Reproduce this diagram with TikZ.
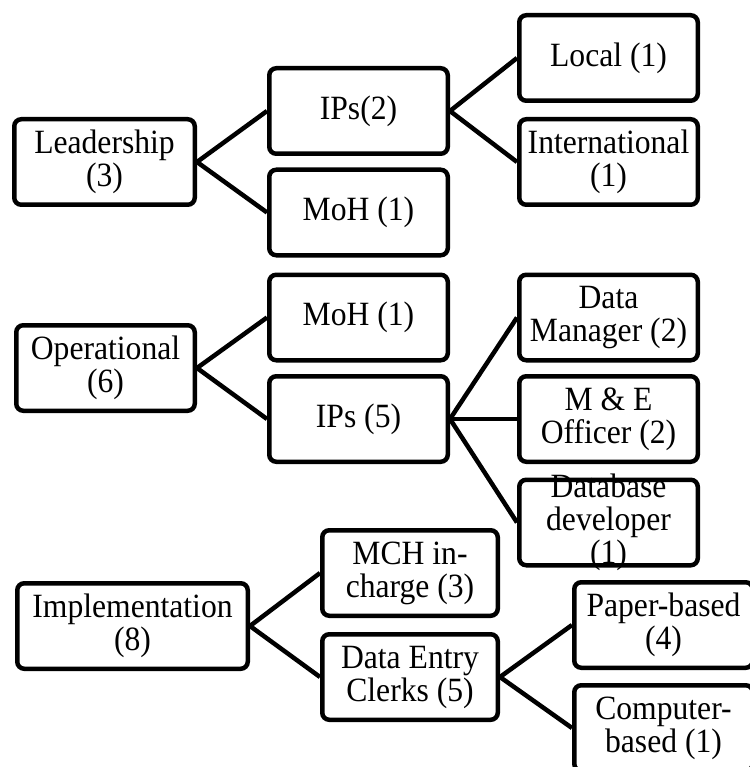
\documentclass[tikz,border=0pt]{standalone}
\usepackage{fontspec}
\setmainfont{Liberation Serif}[FakeStretch=0.93]
\begin{document}
\begin{tikzpicture}[x=1pt,y=-1pt,
  box/.style={draw=black, line width=4.5pt, rounded corners=7pt, fill=white,
    minimum width=178.5pt, minimum height=85.5pt, inner sep=0pt, align=center,
    font=\fontsize{34}{33}\selectfont},
  plaintext/.style={inner sep=0pt, align=center, font=\fontsize{34}{33}\selectfont},
  link/.style={line width=4.5pt, black}]
\useasboundingbox (0,0) rectangle (749,767);
% Leadership branch
\node[box, minimum width=180.5pt] (lead) at (104.5,162) {Leadership\\(3)};
\node[box] (ips2) at (358.5,111) {IPs(2)};
\node[box] (moh1) at (358.5,212.5) {MoH (1)};
\node[box] (local) at (608.5,58) {Local (1)};
\node[box] (intl) at (608.5,162) {International\\(1)};
% Operational branch
\node[box] (oper) at (105.5,368) {Operational\\(6)};
\node[box] (moh2) at (358.5,317.5) {MoH (1)};
\node[box] (ips5) at (358.5,419) {IPs (5)};
\node[box] (dm) at (608.5,317.5) {Data\\Manager (2)};
\node[box] (me) at (608.5,419) {M \& E\\Officer (2)};
\node[box] (db) at (608.5,522.5) {};
\node[plaintext] (dbtext) at (db.center) {Database\\developer\\(1)};
% Implementation branch
\node[box, minimum width=230.5pt] (impl) at (132.5,626) {Implementation\\(8)};
\node[box, minimum width=175.5pt] (mch) at (410,573) {MCH in-\\charge (3)};
\node[box, minimum width=175.5pt] (dec) at (410,677) {Data Entry\\Clerks (5)};
\node[box] (paper) at (663.5,625) {Paper-based\\(4)};
\node[box] (comp) at (663.5,728) {Computer-\\based (1)};
% connectors
\draw[link] (lead.east) -- (ips2.west);
\draw[link] (lead.east) -- (moh1.west);
\draw[link] (ips2.east) -- (local.west);
\draw[link] (ips2.east) -- (intl.west);
\draw[link] (oper.east) -- (moh2.west);
\draw[link] (oper.east) -- (ips5.west);
\draw[link] (ips5.east) -- (dm.west);
\draw[link] (ips5.east) -- (me.west);
\draw[link] (ips5.east) -- (db.west);
\draw[link] (impl.east) -- (mch.west);
\draw[link] (impl.east) -- (dec.west);
\draw[link] (dec.east) -- (paper.west);
\draw[link] (dec.east) -- (comp.west);
\end{tikzpicture}
\end{document}
